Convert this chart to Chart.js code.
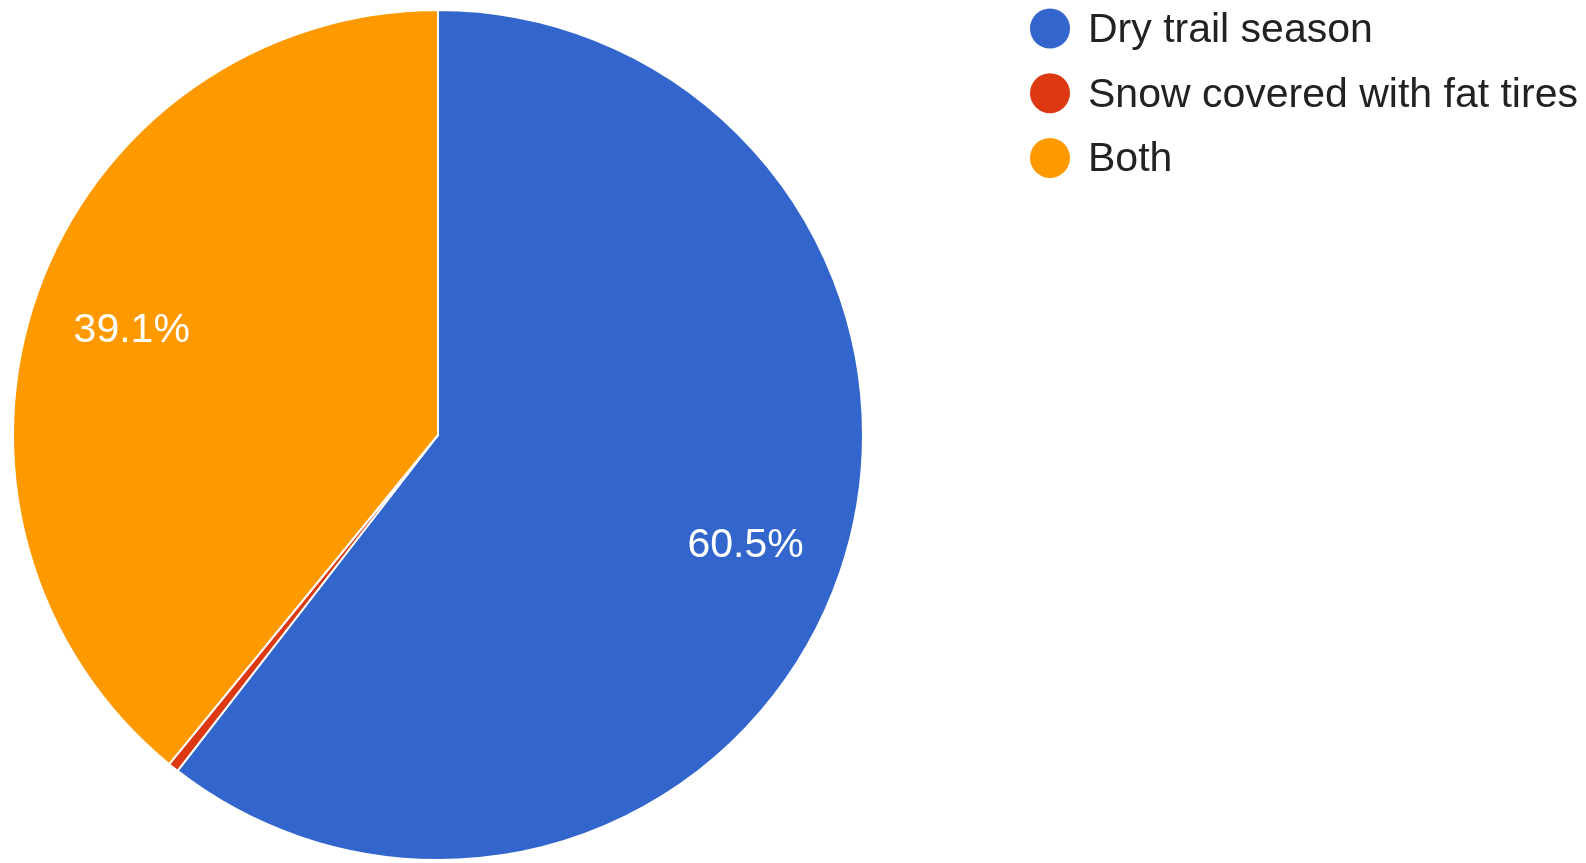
<!DOCTYPE html>
<html>
<head>
<meta charset="utf-8">
<script src="https://cdn.jsdelivr.net/npm/chart.js@4"></script>
<style>
  html, body { margin: 0; padding: 0; background: #fff; }
  #wrap { width: 1586px; height: 863px; }
</style>
</head>
<body>
<div id="wrap"><canvas id="pieChart" width="1586" height="863"></canvas></div>
<script>
const labels = ["Dry trail season", "Snow covered with fat tires", "Both"];
const values = [60.5, 0.4, 39.1];
const colors = ["#3366cc", "#dc3912", "#ff9900"];

const FONT = "'Liberation Sans', Arial, sans-serif";

// percentage labels inside the big slices
const sliceLabels = {
  id: "sliceLabels",
  afterDatasetsDraw(chart) {
    const ctx = chart.ctx;
    const meta = chart.getDatasetMeta(0);
    const total = values.reduce((a, b) => a + b, 0);
    ctx.save();
    ctx.font = "41px " + FONT;
    ctx.fillStyle = "#ffffff";
    ctx.textAlign = "center";
    ctx.textBaseline = "middle";
    meta.data.forEach((arc, i) => {
      const pct = values[i] / total * 100;
      if (pct < 5) return;
      const p = arc.getProps(["x", "y", "startAngle", "endAngle", "outerRadius"], true);
      const mid = (p.startAngle + p.endAngle) / 2;
      const r = p.outerRadius * 0.765;
      ctx.fillText(pct.toFixed(1) + "%", p.x + Math.cos(mid) * r, p.y + Math.sin(mid) * r + 5);
    });
    ctx.restore();
  },
};

// legend on the right, drawn from the chart data
const sideLegend = {
  id: "sideLegend",
  afterDraw(chart) {
    const ctx = chart.ctx;
    const ds = chart.data.datasets[0];
    ctx.save();
    ctx.font = "41px " + FONT;
    ctx.textBaseline = "middle";
    chart.data.labels.forEach((label, i) => {
      const y = 28.5 + i * 64.7;
      ctx.fillStyle = ds.backgroundColor[i];
      ctx.beginPath();
      ctx.arc(1050, y, 20, 0, Math.PI * 2);
      ctx.fill();
      ctx.fillStyle = "#222222";
      ctx.fillText(label, 1088, y + 2);
    });
    ctx.restore();
  },
};

new Chart(document.getElementById("pieChart"), {
  type: "pie",
  data: {
    labels: labels,
    datasets: [
      {
        data: values,
        backgroundColor: colors,
        borderColor: "#ffffff",
        borderWidth: 2,
      },
    ],
  },
  options: {
    responsive: false,
    animation: false,
    layout: {
      padding: { left: 12, top: 9, bottom: 2, right: 722 },
    },
    plugins: {
      legend: { display: false },
      tooltip: { enabled: false },
    },
  },
  plugins: [sliceLabels, sideLegend],
});
</script>
</body>
</html>
